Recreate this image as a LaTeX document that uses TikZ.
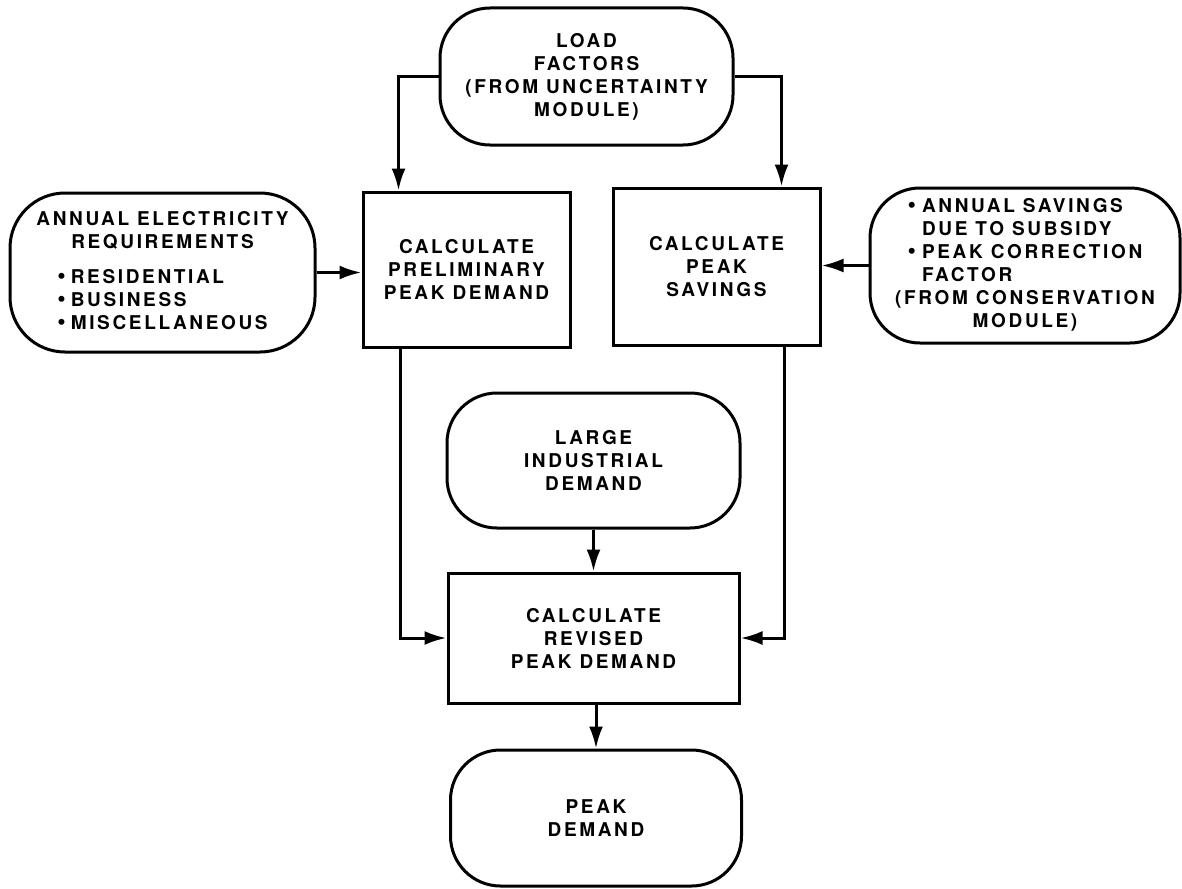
\documentclass[tikz,border=0pt]{standalone}
\usepackage{fontspec}
\setmainfont{TeX Gyre Heros}[LetterSpace=14]
\usetikzlibrary{arrows.meta,calc}
\newcommand{\blt}{{\fontsize{24}{23}\selectfont •}}
\begin{document}
\begin{tikzpicture}[x=1pt,y=-1pt,
  every node/.style={font=\fontsize{19}{23}\selectfont\bfseries, align=center, inner sep=0pt},
  rbox/.style={draw, line width=3pt, rectangle, rounded corners=50pt},
  sbox/.style={draw, line width=3pt, rectangle},
  arr/.style={line width=3pt, -{Latex[length=22pt,width=14pt]}}]
\useasboundingbox (0,0) rectangle (1182,888);

\node[rbox, minimum width=293pt, minimum height=137pt] (lf) at (586.5,76.5)
  {LOAD\\FACTORS\\(FROM UNCERTAINTY\\MODULE)};

\node[rbox, rounded corners=55pt, minimum width=305pt, minimum height=159pt] (aer) at (162.5,272.5)
  {\begin{tabular}{@{}c@{}}ANNUAL ELECTRICITY\\REQUIREMENTS\\[12pt]
   \begin{tabular}[t]{@{}l@{\hspace{5pt}}l@{}}\blt&RESIDENTIAL\\\blt&BUSINESS\\\blt&MISCELLANEOUS\end{tabular}\end{tabular}};

\node[sbox, minimum width=207pt, minimum height=155pt] (cpp) at (466.5,269.5)
  {CALCULATE\\PRELIMINARY\\PEAK DEMAND};

\node[sbox, minimum width=207pt, minimum height=157pt] (cps) at (716.5,266.5)
  {CALCULATE\\PEAK\\SAVINGS};

\node[rbox, minimum width=310pt, minimum height=155pt] (cons) at (1025,265.5)
  {\begin{tabular}{@{}c@{}}\begin{tabular}[b]{@{}l@{\hspace{6pt}}l@{}}\blt&ANNUAL SAVINGS\\&DUE TO SUBSIDY\\\blt&PEAK CORRECTION\\&FACTOR\end{tabular}\\(FROM CONSERVATION\\MODULE)\end{tabular}};

\node[rbox, minimum width=293pt, minimum height=135pt] (lid) at (593.5,460.5)
  {LARGE\\INDUSTRIAL\\DEMAND};

\node[sbox, minimum width=291pt, minimum height=130pt] (crp) at (593.5,638)
  {CALCULATE\\REVISED\\PEAK DEMAND};

\node[rbox, minimum width=291pt, minimum height=136pt] (pd) at (596,818)
  {PEAK\\DEMAND};

\draw[arr] (lf.west) -| ([xshift=37pt]cpp.north west);
\draw[arr] (lf.east) -| ([xshift=-40pt]cps.north east);
\draw[arr] (aer.east) -- (aer.east -| cpp.west);
\draw[arr] (cons.west) -- (cons.west -| cps.east);
\draw[arr] ([xshift=39pt]cpp.south west) |- (crp.west);
\draw[arr] ([xshift=-37pt]cps.south east) |- (crp.east);
\draw[arr] (lid.south) -- (lid.south |- crp.north);
\draw[arr] (crp.south -| pd.north) -- (pd.north);
\end{tikzpicture}
\end{document}
